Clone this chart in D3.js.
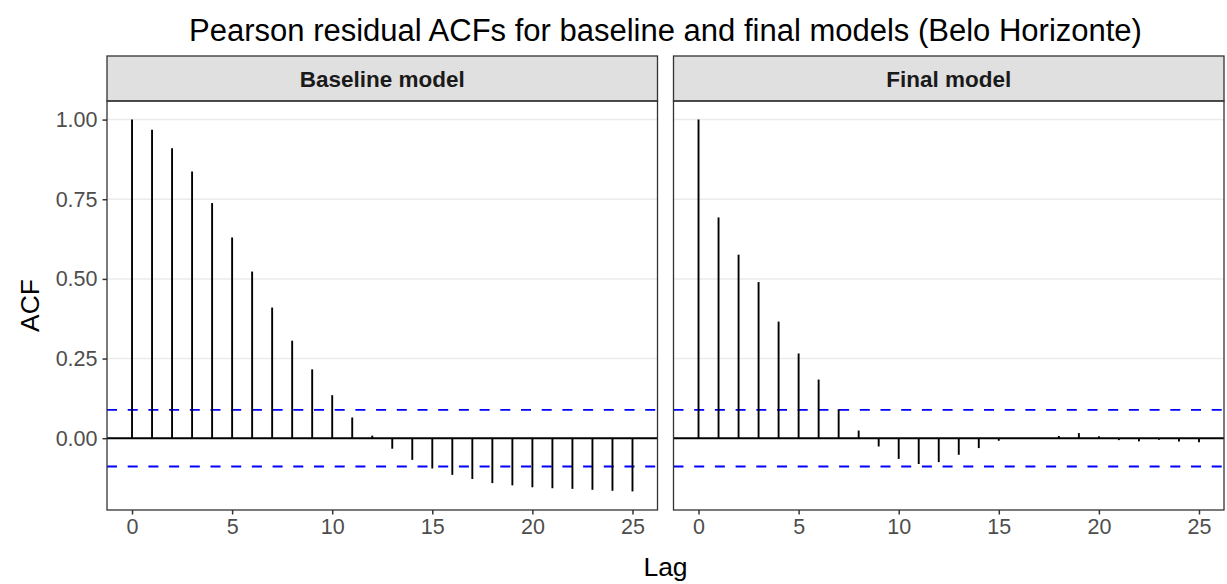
<!DOCTYPE html>
<html>
<head>
<meta charset="utf-8">
<script src="https://cdn.jsdelivr.net/npm/d3@7"></script>
<style>
  body { margin: 0; background: #fff; }
  text { font-family: "Liberation Sans", Arial, sans-serif; }
</style>
</head>
<body>
<svg id="chart" width="1227" height="584"></svg>
<script>
// data
const lags = d3.range(0, 26);
const panels = ['Baseline model', 'Final model'];
const baselineAcf = [1.000, 0.968, 0.910, 0.837, 0.738, 0.630, 0.523, 0.410, 0.306, 0.216,
    0.135, 0.065, 0.008, -0.033, -0.068, -0.095, -0.115, -0.128, -0.141, -0.148,
    -0.154, -0.157, -0.159, -0.162, -0.165, -0.167];
const finalAcf = [1.000, 0.693, 0.576, 0.490, 0.366, 0.266, 0.184, 0.091, 0.024, -0.026,
    -0.065, -0.081, -0.075, -0.052, -0.031, -0.008, -0.002, 0.001, 0.007, 0.016,
    0.006, -0.006, -0.010, -0.005, -0.010, -0.013];
const confBound = 0.089;
const yTicks = [0, 0.25, 0.5, 0.75, 1];
const xTicks = [0, 5, 10, 15, 20, 25];

const svg = d3.select('#chart');

const panelW = 550.5, gap = 16;
const panelTop = 101, panelBottom = 510, stripTop = 56;
const panelLefts = [107, 107 + panelW + gap];
const midX = (panelLefts[0] + panelLefts[1] + panelW) / 2;

// ggplot style 5% expansion
const yMin = d3.min([...baselineAcf, ...finalAcf]), yMax = 1;
const yPad = (yMax - yMin) * 0.05;
const y = d3.scaleLinear()
    .domain([yMin - yPad, yMax + yPad])
    .range([panelBottom, panelTop]);

const series = [baselineAcf, finalAcf];

// title
svg.append('text')
    .attr('x', midX)
    .attr('y', 41)
    .attr('text-anchor', 'middle')
    .style('font-size', '31px')
    .attr('fill', '#000')
    .text('Pearson residual ACFs for baseline and final models (Belo Horizonte)');

panels.forEach((name, i) => {
    const left = panelLefts[i];
    const x = d3.scaleLinear()
        .domain([-1.25, 26.25])
        .range([left, left + panelW]);

    const g = svg.append('g');

    // strip
    g.append('rect')
        .attr('x', left).attr('y', stripTop)
        .attr('width', panelW).attr('height', panelTop - stripTop)
        .attr('fill', '#E0E0E0')
        .attr('stroke', '#333').attr('stroke-width', 1.3);
    g.append('text')
        .attr('x', left + panelW / 2)
        .attr('y', (stripTop + panelTop) / 2)
        .attr('dy', '0.36em')
        .attr('text-anchor', 'middle')
        .style('font-size', '22.5px')
        .style('font-weight', 'bold')
        .attr('fill', '#1A1A1A')
        .text(name);

    // gridlines
    g.selectAll('.grid')
        .data(yTicks)
        .join('line')
        .attr('x1', left).attr('x2', left + panelW)
        .attr('y1', d => y(d)).attr('y2', d => y(d))
        .attr('stroke', '#EBEBEB').attr('stroke-width', 1.5);

    // confidence bounds
    [confBound, -confBound].forEach(c => {
        g.append('line')
            .attr('x1', left).attr('x2', left + panelW)
            .attr('y1', y(c)).attr('y2', y(c))
            .attr('stroke', '#0000FF').attr('stroke-width', 1.9)
            .attr('stroke-dasharray', '10,10.7');
    });

    // zero line
    g.append('line')
        .attr('x1', left).attr('x2', left + panelW)
        .attr('y1', y(0)).attr('y2', y(0))
        .attr('stroke', '#000').attr('stroke-width', 1.9);

    // acf segments
    g.selectAll('.seg')
        .data(lags)
        .join('line')
        .attr('x1', d => x(d)).attr('x2', d => x(d))
        .attr('y1', y(0))
        .attr('y2', d => y(series[i][d]))
        .attr('stroke', '#000').attr('stroke-width', 1.9);

    // panel border
    g.append('rect')
        .attr('x', left).attr('y', panelTop)
        .attr('width', panelW).attr('height', panelBottom - panelTop)
        .attr('fill', 'none')
        .attr('stroke', '#333').attr('stroke-width', 1.3);

    // x axis
    const xAxis = svg.append('g')
        .attr('transform', `translate(0,${panelBottom})`)
        .call(d3.axisBottom(x).tickValues(xTicks).tickSize(4.5).tickPadding(4));
    xAxis.select('.domain').remove();
    xAxis.selectAll('line').attr('stroke', '#333').attr('stroke-width', 1.5);
    xAxis.selectAll('text')
        .style('font-size', '21.5px')
        .attr('fill', '#4D4D4D');

    if (i === 0) {
        const yAxis = svg.append('g')
            .attr('transform', `translate(${left},0)`)
            .call(d3.axisLeft(y).tickValues(yTicks).tickFormat(d3.format('.2f')).tickSize(4.5).tickPadding(5));
        yAxis.select('.domain').remove();
        yAxis.selectAll('line').attr('stroke', '#333').attr('stroke-width', 1.5);
        yAxis.selectAll('text')
            .style('font-size', '21.5px')
            .attr('fill', '#4D4D4D');
    }
});

// axis titles
svg.append('text')
    .attr('x', midX)
    .attr('y', 576)
    .attr('text-anchor', 'middle')
    .style('font-size', '26.5px')
    .attr('fill', '#000')
    .text('Lag');

svg.append('text')
    .attr('transform', `translate(39,${(panelTop + panelBottom) / 2}) rotate(-90)`)
    .attr('text-anchor', 'middle')
    .style('font-size', '26.5px')
    .attr('fill', '#000')
    .text('ACF');
</script>
</body>
</html>
